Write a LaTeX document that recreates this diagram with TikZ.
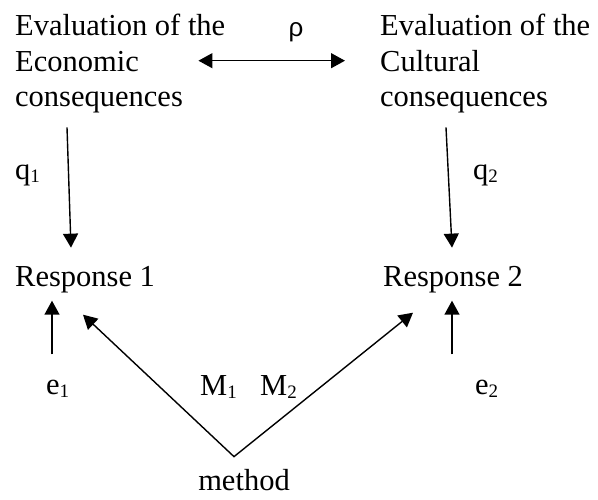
\documentclass[tikz,border=0pt]{standalone}
\usepackage{fontspec}
\setmainfont{Liberation Serif}
\newfontfamily\rhofont{Liberation Sans}
\usetikzlibrary{arrows.meta,calc}

\newcommand\bigtxt{\fontsize{30.5}{35.5}\selectfont}
\newcommand\lowsub[1]{\raisebox{-3pt}{\fontsize{19}{19}\selectfont #1}}

\tikzset{
  lbl/.style={inner sep=0pt, font=\bigtxt},
  block/.style={lbl, align=left, anchor=north west},
  arr/.style={-{Triangle[length=14pt,width=15pt]}, line width=1.4pt},
  dblarr/.style={{Triangle[length=14pt,width=15pt]}-{Triangle[length=14pt,width=15pt]}, line width=1.4pt, line join=miter}
}

\begin{document}
\begin{tikzpicture}[x=1pt, y=-1pt]
\useasboundingbox (0,0) rectangle (598,499);

% Evaluation blocks
\node[block] (econ) at (15,14) {Evaluation of the\\Economic\\consequences};
\node[block] (cult) at (380,14) {Evaluation of the\\Cultural\\consequences};
\node[inner sep=0pt, anchor=base, font={\rhofont\fontsize{26}{26}\selectfont}] (rho) at (296,36) {ρ};

% Responses
\node[lbl, anchor=base west] (resp1) at (15,286) {Response 1};
\node[lbl, anchor=base west] (resp2) at (383,286) {Response 2};

% Path labels
\node[lbl, anchor=base west] (q1) at (15,179) {q\lowsub{1}};
\node[lbl, anchor=base west] (q2) at (473,179) {q\lowsub{2}};
\node[lbl, anchor=base west] (e1) at (46,394) {e\lowsub{1}};
\node[lbl, anchor=base west] (e2) at (475,394) {e\lowsub{2}};
\node[lbl, anchor=base west] (m1) at (200,395) {M\lowsub{1}};
\node[lbl, anchor=base west] (m2) at (260,395) {M\lowsub{2}};
\node[lbl, anchor=base] (method) at (244,490) {method};

% Correlation
\draw[dblarr] ($(econ.east)+(-27,-3)$) -- ($(cult.west)+(-35,-3)$);

% Loadings
\draw[arr] ($(econ.south west)+(52,14)$) -- ($(resp1.north west)+(56,-18)$);
\draw[arr] ($(cult.south west)+(66,14)$) -- ($(resp2.north west)+(69,-18)$);

% Errors
\draw[arr] ($(e1.north west)+(6,-25)$) -- ($(resp1.south west)+(37,8)$);
\draw[arr] ($(e2.north west)+(-23,-25)$) -- ($(resp2.south west)+(69,8)$);

% Method effects
\coordinate (apex) at ($(method.north)+(-10,-12)$);
\draw[dblarr] ($(resp1.south west)+(68,22)$) -- (apex) -- ($(resp2.south west)+(30,20)$);

\end{tikzpicture}
\end{document}
